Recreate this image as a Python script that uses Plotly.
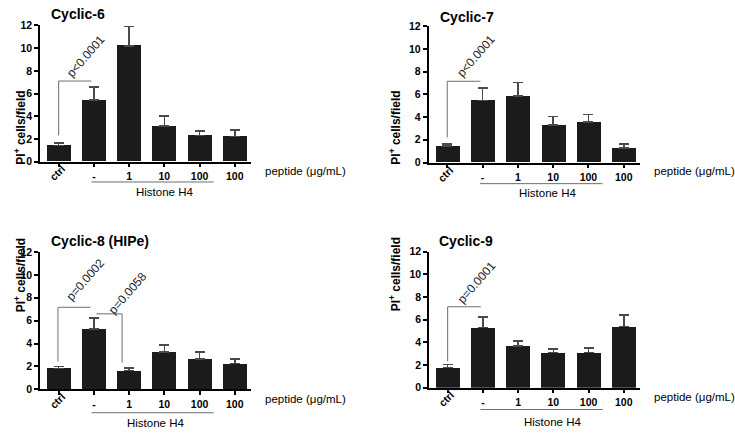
import plotly.graph_objects as go

# bar categories and values (PI+ cells/field)
labels = ['ctrl', '-', '1', '10', '100', '100']
c6_mean = [1.43, 5.42, 10.2, 3.14, 2.29, 2.2]
c6_err = [0.22, 1.15, 1.7, 0.86, 0.42, 0.57]
c7_mean = [1.45, 5.45, 5.84, 3.3, 3.58, 1.3]
c7_err = [0.2, 1.1, 1.19, 0.75, 0.65, 0.32]
c8_mean = [1.84, 5.28, 1.65, 3.26, 2.65, 2.26]
c8_err = [0.18, 0.94, 0.2, 0.6, 0.62, 0.38]
c9_mean = [1.8, 5.29, 3.68, 3.09, 3.09, 5.4]
c9_err = [0.26, 0.94, 0.46, 0.34, 0.42, 1.03]

# significance brackets (x, y in data units) and p-value labels
c6_brackets = [([0, 0, 0.93], [2.3, 7.1, 7.1])]
c7_brackets = [([0, 0, 0.94], [2.2, 7.15, 7.15])]
c8_brackets = [([-0.02, -0.02, 0.9], [2.42, 7.17, 7.17]),
               ([1.07, 1.8, 1.8], [6.6, 6.6, 2.33])]
c9_brackets = [([0, 0, 0.94], [2.31, 7.14, 7.14])]
c6_pvals = [(0.77, 9.34, 'p<0.0001')]
c7_pvals = [(0.82, 9.34, 'p<0.0001')]
c8_pvals = [(0.75, 9.57, 'p=0.0002'), (1.96, 8.44, 'p=0.0058')]
c9_pvals = [(0.83, 9.33, 'p=0.0001')]

FONT = 'Arial, Liberation Sans, sans-serif'
W, H = 735, 434

panels = [
    dict(title='Cyclic-6', mean=c6_mean, err=c6_err, br=c6_brackets, pv=c6_pvals,
         xd=(40, 251), yd=(20, 160), tpos=(49, 8), ytpos=(10, 85),
         pep=(263, 170), hline=181, htext=(3.0, 191.7)),
    dict(title='Cyclic-7', mean=c7_mean, err=c7_err, br=c7_brackets, pv=c7_pvals,
         xd=(428.5, 640), yd=(20.7, 161), tpos=(438, 11.7), ytpos=(395, 85),
         pep=(651.7, 170), hline=182.7, htext=(2.83, 192.5)),
    dict(title='Cyclic-8 (HIPe)', mean=c8_mean, err=c8_err, br=c8_brackets, pv=c8_pvals,
         xd=(40, 251), yd=(253, 394.3), tpos=(49, 241.7), ytpos=(10, 317),
         pep=(263, 404.3), hline=418.3, htext=(2.75, 428.5)),
    dict(title='Cyclic-9', mean=c9_mean, err=c9_err, br=c9_brackets, pv=c9_pvals,
         xd=(429, 640), yd=(252.7, 392.5), tpos=(436.7, 241.7), ytpos=(395, 316),
         pep=(651.7, 402.5), hline=415, htext=(2.98, 427.5)),
]


def px(v):
    return v / W


def py(v):
    return 1 - v / H


fig = go.Figure()
annotations = []
shapes = []
layout = {}

for i, p in enumerate(panels, start=1):
    sx = '' if i == 1 else str(i)
    xref, yref = 'x' + sx, 'y' + sx
    fig.add_trace(go.Bar(
        x=list(range(len(labels))), y=p['mean'], width=0.68,
        marker=dict(color='#1b1b1b', line=dict(width=0)),
        error_y=dict(type='data', symmetric=False, array=p['err'],
                     arrayminus=[0] * len(labels), color='#4a4a4a',
                     thickness=1.5, width=5),
        xaxis=xref, yaxis=yref, showlegend=False,
    ))
    for bx, by in p['br']:
        fig.add_trace(go.Scatter(x=bx, y=by, mode='lines',
                                 line=dict(color='#6e6e6e', width=1),
                                 xaxis=xref, yaxis=yref, showlegend=False,
                                 hoverinfo='skip'))
    layout['xaxis' + sx] = dict(
        domain=[px(p['xd'][0]), px(p['xd'][1])], range=[-0.53, 5.46],
        anchor=yref, tickvals=list(range(1, len(labels))),
        ticktext=labels[1:], tickangle=0,
        showline=True, linecolor='black', linewidth=1.5,
        ticks='outside', ticklen=4, tickwidth=1.5, tickcolor='black',
        minor=dict(tick0=0, dtick=1, ticks='outside', ticklen=4,
                   tickwidth=1.5, tickcolor='black', showgrid=False),
        showgrid=False, zeroline=False,
        tickfont=dict(family=FONT, size=10.5, color='black', weight='bold'),
    )
    layout['yaxis' + sx] = dict(
        domain=[py(p['yd'][1]), py(p['yd'][0])], range=[0, 12], dtick=2,
        anchor=xref, showline=True, linecolor='black', linewidth=1.5,
        ticks='outside', ticklen=4, tickwidth=1.5, tickcolor='black',
        showgrid=False, zeroline=False,
        tickfont=dict(family=FONT, size=10.5, color='black', weight='bold'),
    )
    annotations.append(dict(
        text='<b>%s</b>' % p['title'], x=px(p['tpos'][0]), y=py(p['tpos'][1]),
        xref='paper', yref='paper', xanchor='left', yanchor='middle',
        showarrow=False, font=dict(family=FONT, size=14, color='black')))
    annotations.append(dict(
        text='<b>PI<sup>+</sup> cells/field</b>', x=px(p['ytpos'][0]), y=py(p['ytpos'][1]),
        xref='paper', yref='paper', textangle=-90, showarrow=False,
        font=dict(family=FONT, size=12, color='black')))
    annotations.append(dict(
        text='<b>ctrl</b>', x=-0.05, y=py(p['yd'][1] + 11.5), xref=xref, yref='paper',
        xanchor='center', yanchor='middle', textangle=-45, showarrow=False,
        font=dict(family=FONT, size=10.5, color='black')))
    annotations.append(dict(
        text='peptide (\u03bcg/mL)', x=px(p['pep'][0]), y=py(p['pep'][1]),
        xref='paper', yref='paper', xanchor='left', yanchor='middle',
        showarrow=False, font=dict(family=FONT, size=11.5, color='black')))
    annotations.append(dict(
        text='Histone H4', x=p['htext'][0], y=py(p['htext'][1]),
        xref=xref, yref='paper', yanchor='middle', showarrow=False,
        font=dict(family=FONT, size=11.5, color='black')))
    for tx, ty, t in p['pv']:
        annotations.append(dict(
            text=t, x=tx, y=ty, xref=xref, yref=yref, textangle=-49,
            showarrow=False, font=dict(family=FONT, size=12, color='#222222')))
    shapes.append(dict(type='line', xref=xref, yref='paper',
                       x0=0.93, x1=4.4, y0=py(p['hline']), y1=py(p['hline']),
                       line=dict(color='#6e6e6e', width=1)))

fig.update_layout(
    width=W, height=H,
    margin=dict(l=0, r=0, t=0, b=0),
    plot_bgcolor='white',
    paper_bgcolor='white',
    bargap=0,
    annotations=annotations,
    shapes=shapes,
    **layout
)

# drop the default page margin so the 735x434 figure fills the window
fig.write_html("out.html", config={'displayModeBar': False},
               post_script="document.body.style.margin='0';document.body.style.overflow='hidden';")
